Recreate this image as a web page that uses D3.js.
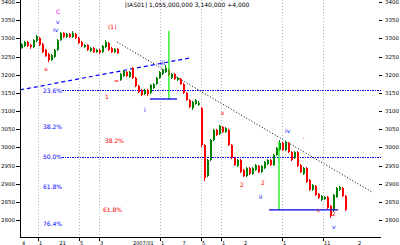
<!DOCTYPE html>
<html>
<head>
<meta charset="utf-8">
<script src="https://cdn.jsdelivr.net/npm/d3@7/dist/d3.min.js"></script>
<style>
  body { margin: 0; background: #fff; }
  svg { display: block; }
  text { font-family: "DejaVu Sans", sans-serif; }
</style>
</head>
<body>
<div id="chart"></div>
<script>
// ---------------------------------------- data ----------------------------------------
const titleText = "[IAS01]  1,055,000,000  3,140,000  +4,000";
const yTicks = [3400, 3350, 3300, 3250, 3200, 3150, 3100, 3050, 3000, 2950, 2900, 2850, 2800];

const opens = [3273,3279,3290,3282,3276,3293,3301,3284,3268,3257,3240,3249,3268,3295,3315,3304,3312,3304,3312,3301,
  3290,3276,3282,3265,3273,3262,3268,3262,3276,3287,3273,3262,3271,3185,3196,3207,3194,3218,3191,3169,
  3158,3147,3158,3150,3163,3174,3191,3202,3207,3213,3191,3202,3185,3188,3174,3150,3130,3108,3119,3117,
  3108,3006,2921,2965,3020,3048,3037,3056,3042,3048,3006,2971,2949,2965,2938,2921,2943,2927,2938,2949,
  2932,2943,2954,2965,2951,2979,2993,3012,2993,3012,2987,2971,2987,2951,2927,2943,2910,2883,2894,2872,
  2855,2858,2863,2839,2828,2863,2883,2888,2866];
const highs = [3287,3293,3293,3284,3298,3309,3304,3287,3271,3260,3257,3271,3298,3317,3317,3315,3315,3320,3315,3304,
  3293,3284,3284,3276,3276,3271,3271,3282,3295,3290,3276,3273,3273,3205,3213,3210,3210,3221,3194,3172,
  3161,3161,3161,3174,3177,3194,3210,3216,3227,3216,3205,3205,3194,3191,3177,3152,3133,3128,3133,3128,
  3111,3009,2968,3023,3051,3051,3062,3059,3056,3051,3009,2973,2968,2968,2940,2946,2946,2946,2954,2951,
  2951,2962,2968,2968,2982,3001,3020,3015,3017,3015,2990,2990,2990,2954,2946,2946,2913,2899,2896,2874,
  2869,2866,2866,2841,2872,2891,2894,2891,2869];
const lows = [3271,3276,3276,3271,3273,3290,3279,3260,3249,3235,3238,3246,3265,3293,3301,3301,3301,3301,3298,3284,
  3276,3273,3265,3262,3260,3260,3257,3260,3273,3265,3260,3260,3257,3183,3194,3194,3191,3188,3166,3150,
  3141,3144,3141,3147,3161,3172,3188,3199,3205,3196,3188,3185,3183,3172,3147,3128,3108,3103,3117,3114,
  3001,2907,2918,2962,3017,3031,3034,3040,3040,3004,2968,2949,2946,2929,2918,2918,2924,2924,2935,2929,
  2929,2940,2951,2949,2949,2976,2990,2990,2990,2984,2962,2968,2946,2929,2924,2902,2880,2880,2866,2858,
  2852,2855,2830,2806,2822,2861,2880,2863,2825];
const closes = [3284,3290,3279,3276,3295,3306,3282,3262,3251,3240,3254,3268,3295,3315,3304,3312,3304,3315,3301,3287,
  3279,3282,3268,3273,3262,3268,3260,3279,3290,3268,3262,3271,3260,3202,3210,3196,3207,3191,3169,3152,
  3144,3158,3147,3172,3174,3191,3207,3213,3218,3199,3202,3188,3191,3174,3150,3130,3111,3125,3130,3122,
  3006,2916,2965,3020,3048,3034,3059,3042,3053,3006,2971,2951,2965,2932,2921,2943,2927,2943,2951,2932,
  2949,2960,2965,2951,2979,2998,3012,2993,3015,2987,2965,2987,2949,2932,2943,2905,2883,2896,2869,2861,
  2866,2863,2833,2811,2869,2888,2891,2866,2828];

// month boundaries (candle index) and bottom labels
const gridIdx = [5.67, 19.33, 26, 46.33, 60, 66.67, 87, 100.67];
const xLabels = [[0, "4"], [5.67, "1"], [12.5, "21"], [19.33, "5"], [26, "3"], [37, "2007/01"], [46.33, "1"],
  [53.5, "7"], [60, "5"], [66.67, "1"], [74, "2"], [87, "1"], [100.67, "11"], [112, "2"]];

// fibonacci retracement
const fibHigh = 3322, fibLow = 2626;
const fibRatios = [0.236, 0.382, 0.5, 0.618, 0.764];
const fibLabels = ["23.6%", "38.2%", "50.0%", "61.8%", "76.4%"];
const fibLines = [0.236, 0.5];
const redLabels = [[28, 3020, "38.2%"], [27.3, 2830, "61.8%"]];

// wave labels [idx, price, text, colour]
const waveLabels = [
  [11.7, 3366, "C", "#e000e0"], [11.7, 3339, "v", "#0000ff"], [10.7, 3317, "iv", "#0000ff"],
  [7.7, 3211, "a", "#ff0000"], [29, 3325, "(1)", "#ff0000"], [28, 3133, "1", "#ff0000"],
  [31, 3176, "=", "#ff0000"], [41, 3096, "i", "#0000ff"], [46.3, 3227, "iii", "#0000ff"],
  [66.6, 3089, "x", "#ff0000"], [73, 2891, "2", "#ff0000"], [80, 2896, "2", "#ff0000"],
  [79.3, 2858, "ii", "#0000ff"], [88, 3040, "iv", "#0000ff"], [94, 3015, "'", "#ff0000"],
  [98.7, 2822, "ʟ", "#ff0000"], [103.7, 2811, "2", "#ff0000"], [103.7, 2774, "v", "#0000ff"]
];

// trendlines / markers in [idx, price]
const blueTrend = [[-0.33, 3158], [56.3, 3246]];
const blackTrend = [[32, 3290], [117, 2877]];
const greenMarks = [[[49.3, 3320], [49.3, 3133]], [[86, 3015], [86, 2828]]];
const blueMarks = [[[43, 3133], [52, 3133]], [[82.7, 2828], [105.7, 2828]]];

// ---------------------------------------- chart ----------------------------------------
const W = 400, H = 245;
const plotL = 20, plotR = 381, plotT = 0, plotB = 237;

const svg = d3.select('#chart').append('svg')
  .attr('width', W).attr('height', H);

const x = d3.scaleLinear().domain([0, opens.length - 1]).range([21, 345]);
const y = d3.scaleLinear().domain([3400, 2800]).range([2, 220]);

// grid
svg.append('g').selectAll('line').data(gridIdx).enter().append('line')
  .attr('x1', d => Math.round(x(d)) + 0.5).attr('x2', d => Math.round(x(d)) + 0.5)
  .attr('y1', plotT).attr('y2', plotB)
  .attr('stroke', '#b8b8b8').attr('stroke-dasharray', '1,2');

// fib lines
svg.append('g').selectAll('line').data(fibLines).enter().append('line')
  .attr('x1', 62).attr('x2', plotR)
  .attr('y1', d => Math.round(y(fibHigh - d * (fibHigh - fibLow))) + 0.5)
  .attr('y2', d => Math.round(y(fibHigh - d * (fibHigh - fibLow))) + 0.5)
  .attr('stroke', '#0000ff').attr('stroke-dasharray', '2,1,1,1');

svg.append('g').selectAll('text').data(fibRatios).enter().append('text')
  .attr('x', 43).attr('y', d => y(fibHigh - d * (fibHigh - fibLow)) + 2.5)
  .attr('font-size', 6).attr('fill', '#0000ff')
  .text((d, i) => fibLabels[i]);

svg.append('g').selectAll('text').data(redLabels).enter().append('text')
  .attr('x', d => x(d[0])).attr('y', d => y(d[1]) + 2.5)
  .attr('font-size', 6).attr('fill', '#ff0000')
  .text(d => d[2]);

// trendlines
const line = d3.line().x(d => x(d[0])).y(d => y(d[1]));
svg.append('path').attr('d', line(blueTrend)).attr('fill', 'none')
  .attr('stroke', '#0000ff').attr('stroke-width', 1.2).attr('stroke-dasharray', '4,3');
svg.append('path').attr('d', line(blackTrend)).attr('fill', 'none')
  .attr('stroke', '#000').attr('stroke-width', 1).attr('stroke-dasharray', '1,2');

// candles
const idx = d3.range(opens.length);
const cg = svg.append('g');
cg.selectAll('line').data(idx).enter().append('line')
  .attr('x1', i => Math.round(x(i)) + 0.5).attr('x2', i => Math.round(x(i)) + 0.5)
  .attr('y1', i => y(highs[i])).attr('y2', i => y(lows[i]))
  .attr('stroke', i => closes[i] >= opens[i] ? '#008000' : '#ff0000');
cg.selectAll('rect').data(idx).enter().append('rect')
  .attr('x', i => Math.round(x(i)))
  .attr('width', 2)
  .attr('y', i => y(Math.max(opens[i], closes[i])))
  .attr('height', i => Math.max(1, Math.abs(y(opens[i]) - y(closes[i]))))
  .attr('fill', i => closes[i] >= opens[i] ? '#008000' : '#ff0000');

// markers
svg.append('g').selectAll('path').data(greenMarks).enter().append('path')
  .attr('d', line).attr('stroke', '#00ee00').attr('stroke-width', 1.2).attr('fill', 'none');
svg.append('g').selectAll('path').data(blueMarks).enter().append('path')
  .attr('d', line).attr('stroke', '#0000e0').attr('stroke-width', 1.3).attr('fill', 'none');

// wave labels
svg.append('g').selectAll('text').data(waveLabels).enter().append('text')
  .attr('x', d => x(d[0])).attr('y', d => y(d[1]))
  .attr('font-size', 6).attr('fill', d => d[3])
  .text(d => d[2]);

// axes
svg.append('line').attr('x1', plotL + 0.5).attr('x2', plotL + 0.5).attr('y1', 0).attr('y2', plotB)
  .attr('stroke', '#000');
svg.append('line').attr('x1', plotL).attr('x2', plotR).attr('y1', plotB + 0.5).attr('y2', plotB + 0.5)
  .attr('stroke', '#000');

const ly = svg.append('g');
ly.selectAll('line').data(yTicks).enter().append('line')
  .attr('x1', 16).attr('x2', 20)
  .attr('y1', d => Math.round(y(d)) + 0.5).attr('y2', d => Math.round(y(d)) + 0.5)
  .attr('stroke', '#000');
ly.selectAll('text').data(yTicks).enter().append('text')
  .attr('x', 15).attr('y', d => y(d) + 2).attr('text-anchor', 'end')
  .attr('font-size', 5.5).attr('fill', '#000')
  .text(d => d);

const ry = svg.append('g');
ry.selectAll('line').data(yTicks).enter().append('line')
  .attr('x1', 379).attr('x2', 382)
  .attr('y1', d => Math.round(y(d)) + 0.5).attr('y2', d => Math.round(y(d)) + 0.5)
  .attr('stroke', '#000');
ry.selectAll('text').data(yTicks).enter().append('text')
  .attr('x', 385).attr('y', d => y(d) + 2)
  .attr('font-size', 5.5).attr('fill', '#000')
  .text(d => d);

// bottom ticks and labels
svg.append('g').selectAll('line').data(gridIdx).enter().append('line')
  .attr('x1', d => Math.round(x(d)) + 0.5).attr('x2', d => Math.round(x(d)) + 0.5)
  .attr('y1', plotB).attr('y2', plotB + 4)
  .attr('stroke', '#000');
svg.append('g').selectAll('text').data(xLabels).enter().append('text')
  .attr('x', d => x(d[0]) + 1).attr('y', 244.5)
  .attr('font-size', 5).attr('fill', '#000')
  .text(d => d[1]);

// title
svg.append('text').attr('x', 125).attr('y', 7)
  .attr('font-size', 6).attr('fill', '#000')
  .text(titleText);
</script>
</body>
</html>
